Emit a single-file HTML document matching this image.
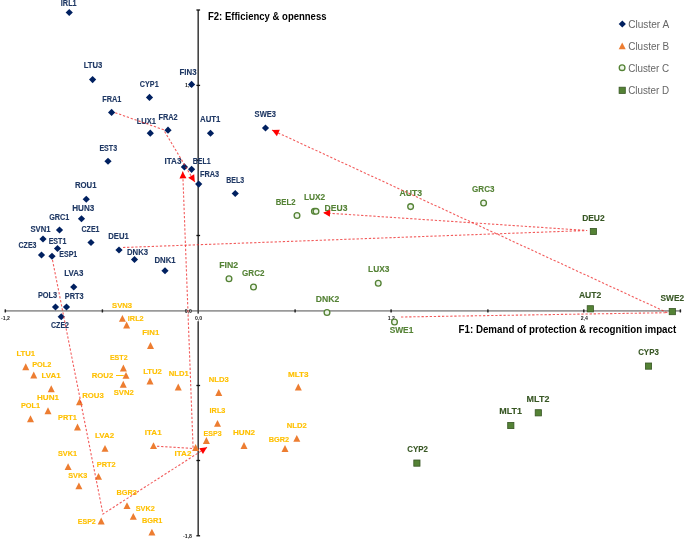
<!DOCTYPE html>
<html><head><meta charset="utf-8"><style>
html,body{margin:0;padding:0;background:#fff;width:685px;height:540px;overflow:hidden}
svg{display:block;font-family:"Liberation Sans",sans-serif;will-change:transform}
</style></head><body>
<svg width="685" height="540" viewBox="0 0 685 540">
<rect width="685" height="540" fill="#fff"/>
<line x1="5" y1="310.9" x2="680.5" y2="310.9" stroke="#9A9A9A" stroke-width="1.9"/>
<line x1="198.2" y1="10" x2="198.2" y2="535.8" stroke="#444" stroke-width="1.6"/>
<rect x="4.55" y="309.2" width="1.5" height="3.4" rx="0.6" fill="#222"/>
<rect x="101.65" y="309.2" width="1.5" height="3.4" rx="0.6" fill="#222"/>
<rect x="294.35" y="309.2" width="1.5" height="3.4" rx="0.6" fill="#222"/>
<rect x="390.35" y="309.2" width="1.5" height="3.4" rx="0.6" fill="#222"/>
<rect x="487.15" y="309.2" width="1.5" height="3.4" rx="0.6" fill="#222"/>
<rect x="583.05" y="309.2" width="1.5" height="3.4" rx="0.6" fill="#222"/>
<rect x="679.65" y="309.2" width="1.5" height="3.4" rx="0.6" fill="#222"/>
<rect x="196.4" y="9.35" width="3.7" height="1.3" fill="#111"/>
<rect x="196.4" y="84.75" width="3.7" height="1.3" fill="#111"/>
<rect x="196.4" y="159.55" width="3.7" height="1.3" fill="#111"/>
<rect x="196.4" y="234.85" width="3.7" height="1.3" fill="#111"/>
<rect x="196.4" y="384.85" width="3.7" height="1.3" fill="#111"/>
<rect x="196.4" y="459.85" width="3.7" height="1.3" fill="#111"/>
<rect x="196.4" y="535.15" width="3.7" height="1.3" fill="#111"/>
<g font-family="Liberation Sans" font-size="5.2" font-weight="bold" fill="#222" text-anchor="middle">
<text x="188.5" y="87.25">1,1</text>
<text x="188.4" y="312.75">0,0</text>
<text x="187.5" y="537.65">-1,8</text>
<text x="5.4" y="319.85">-1,2</text>
<text x="391.3" y="319.95">1,2</text>
<text x="584.3" y="320.15">2,4</text>
<rect x="194.5" y="313.6" width="8" height="7.6" fill="#fff"/>
<text x="198.5" y="320">0,0</text>
</g>
<path d="M69.25 8.90L72.85 12.50L69.25 16.10L65.65 12.50Z" fill="#002060"/>
<path d="M92.60 76.00L96.20 79.60L92.60 83.20L89.00 79.60Z" fill="#002060"/>
<path d="M149.50 93.80L153.10 97.40L149.50 101.00L145.90 97.40Z" fill="#002060"/>
<path d="M191.60 80.80L195.20 84.40L191.60 88.00L188.00 84.40Z" fill="#002060"/>
<path d="M111.60 108.80L115.20 112.40L111.60 116.00L108.00 112.40Z" fill="#002060"/>
<path d="M150.30 129.60L153.90 133.20L150.30 136.80L146.70 133.20Z" fill="#002060"/>
<path d="M168.00 126.60L171.60 130.20L168.00 133.80L164.40 130.20Z" fill="#002060"/>
<path d="M210.50 129.65L214.10 133.25L210.50 136.85L206.90 133.25Z" fill="#002060"/>
<path d="M265.50 124.40L269.10 128.00L265.50 131.60L261.90 128.00Z" fill="#002060"/>
<path d="M108.00 157.65L111.60 161.25L108.00 164.85L104.40 161.25Z" fill="#002060"/>
<path d="M184.40 163.30L188.00 166.90L184.40 170.50L180.80 166.90Z" fill="#002060"/>
<path d="M191.60 165.70L195.20 169.30L191.60 172.90L188.00 169.30Z" fill="#002060"/>
<path d="M198.70 180.50L202.30 184.10L198.70 187.70L195.10 184.10Z" fill="#002060"/>
<path d="M235.25 189.90L238.85 193.50L235.25 197.10L231.65 193.50Z" fill="#002060"/>
<path d="M86.25 195.65L89.85 199.25L86.25 202.85L82.65 199.25Z" fill="#002060"/>
<path d="M81.50 215.15L85.10 218.75L81.50 222.35L77.90 218.75Z" fill="#002060"/>
<path d="M59.50 226.40L63.10 230.00L59.50 233.60L55.90 230.00Z" fill="#002060"/>
<path d="M43.00 235.40L46.60 239.00L43.00 242.60L39.40 239.00Z" fill="#002060"/>
<path d="M91.00 238.90L94.60 242.50L91.00 246.10L87.40 242.50Z" fill="#002060"/>
<path d="M57.50 244.90L61.10 248.50L57.50 252.10L53.90 248.50Z" fill="#002060"/>
<path d="M41.50 251.40L45.10 255.00L41.50 258.60L37.90 255.00Z" fill="#002060"/>
<path d="M52.00 252.65L55.60 256.25L52.00 259.85L48.40 256.25Z" fill="#002060"/>
<path d="M119.00 246.40L122.60 250.00L119.00 253.60L115.40 250.00Z" fill="#002060"/>
<path d="M134.50 255.90L138.10 259.50L134.50 263.10L130.90 259.50Z" fill="#002060"/>
<path d="M165.00 267.15L168.60 270.75L165.00 274.35L161.40 270.75Z" fill="#002060"/>
<path d="M73.75 283.40L77.35 287.00L73.75 290.60L70.15 287.00Z" fill="#002060"/>
<path d="M55.50 303.40L59.10 307.00L55.50 310.60L51.90 307.00Z" fill="#002060"/>
<path d="M66.50 303.40L70.10 307.00L66.50 310.60L62.90 307.00Z" fill="#002060"/>
<path d="M61.25 313.15L64.85 316.75L61.25 320.35L57.65 316.75Z" fill="#002060"/>
<path d="M122.40 314.90L125.90 321.70L118.90 321.70Z" fill="#ED7D31"/>
<path d="M126.60 321.60L130.10 328.40L123.10 328.40Z" fill="#ED7D31"/>
<path d="M150.50 342.10L154.00 348.90L147.00 348.90Z" fill="#ED7D31"/>
<path d="M123.40 364.60L126.90 371.40L119.90 371.40Z" fill="#ED7D31"/>
<path d="M126.00 371.90L129.50 378.70L122.50 378.70Z" fill="#ED7D31"/>
<path d="M123.25 380.85L126.75 387.65L119.75 387.65Z" fill="#ED7D31"/>
<path d="M150.00 377.60L153.50 384.40L146.50 384.40Z" fill="#ED7D31"/>
<path d="M25.75 363.35L29.25 370.15L22.25 370.15Z" fill="#ED7D31"/>
<path d="M33.75 371.60L37.25 378.40L30.25 378.40Z" fill="#ED7D31"/>
<path d="M51.25 385.35L54.75 392.15L47.75 392.15Z" fill="#ED7D31"/>
<path d="M48.00 407.35L51.50 414.15L44.50 414.15Z" fill="#ED7D31"/>
<path d="M30.50 415.35L34.00 422.15L27.00 422.15Z" fill="#ED7D31"/>
<path d="M79.50 398.35L83.00 405.15L76.00 405.15Z" fill="#ED7D31"/>
<path d="M77.50 423.60L81.00 430.40L74.00 430.40Z" fill="#ED7D31"/>
<path d="M105.00 445.00L108.50 451.80L101.50 451.80Z" fill="#ED7D31"/>
<path d="M153.50 442.20L157.00 449.00L150.00 449.00Z" fill="#ED7D31"/>
<path d="M68.10 463.30L71.60 470.10L64.60 470.10Z" fill="#ED7D31"/>
<path d="M98.50 473.00L102.00 479.80L95.00 479.80Z" fill="#ED7D31"/>
<path d="M78.90 482.40L82.40 489.20L75.40 489.20Z" fill="#ED7D31"/>
<path d="M127.00 502.30L130.50 509.10L123.50 509.10Z" fill="#ED7D31"/>
<path d="M133.30 513.00L136.80 519.80L129.80 519.80Z" fill="#ED7D31"/>
<path d="M151.90 528.80L155.40 535.60L148.40 535.60Z" fill="#ED7D31"/>
<path d="M101.20 517.60L104.70 524.40L97.70 524.40Z" fill="#ED7D31"/>
<path d="M178.25 383.60L181.75 390.40L174.75 390.40Z" fill="#ED7D31"/>
<path d="M218.75 389.10L222.25 395.90L215.25 395.90Z" fill="#ED7D31"/>
<path d="M298.30 383.60L301.80 390.40L294.80 390.40Z" fill="#ED7D31"/>
<path d="M217.50 419.90L221.00 426.70L214.00 426.70Z" fill="#ED7D31"/>
<path d="M296.80 434.90L300.30 441.70L293.30 441.70Z" fill="#ED7D31"/>
<path d="M206.40 437.10L209.90 443.90L202.90 443.90Z" fill="#ED7D31"/>
<path d="M244.00 442.10L247.50 448.90L240.50 448.90Z" fill="#ED7D31"/>
<path d="M285.00 445.10L288.50 451.90L281.50 451.90Z" fill="#ED7D31"/>
<path d="M195.60 444.10L199.10 450.90L192.10 450.90Z" fill="#ED7D31"/>
<circle cx="297.00" cy="215.50" r="2.85" fill="#EEF5EA" stroke="#548235" stroke-width="1.35"/>
<circle cx="314.40" cy="211.30" r="2.85" fill="#EEF5EA" stroke="#548235" stroke-width="1.35"/>
<circle cx="316.00" cy="211.30" r="2.85" fill="#EEF5EA" stroke="#548235" stroke-width="1.35"/>
<circle cx="410.60" cy="206.60" r="2.85" fill="#EEF5EA" stroke="#548235" stroke-width="1.35"/>
<circle cx="483.60" cy="203.00" r="2.85" fill="#EEF5EA" stroke="#548235" stroke-width="1.35"/>
<circle cx="229.00" cy="278.75" r="2.85" fill="#EEF5EA" stroke="#548235" stroke-width="1.35"/>
<circle cx="253.50" cy="287.00" r="2.85" fill="#EEF5EA" stroke="#548235" stroke-width="1.35"/>
<circle cx="378.25" cy="283.25" r="2.85" fill="#EEF5EA" stroke="#548235" stroke-width="1.35"/>
<circle cx="327.00" cy="312.50" r="2.85" fill="#EEF5EA" stroke="#548235" stroke-width="1.35"/>
<circle cx="394.50" cy="322.00" r="2.85" fill="#EEF5EA" stroke="#548235" stroke-width="1.35"/>
<rect x="590.30" y="228.40" width="6.2" height="6.2" fill="#548235" stroke="#375623" stroke-width="0.8"/>
<rect x="587.20" y="305.70" width="6.2" height="6.2" fill="#548235" stroke="#375623" stroke-width="0.8"/>
<rect x="669.20" y="308.50" width="6.2" height="6.2" fill="#548235" stroke="#375623" stroke-width="0.8"/>
<rect x="645.40" y="363.00" width="6.2" height="6.2" fill="#548235" stroke="#375623" stroke-width="0.8"/>
<rect x="535.20" y="409.70" width="6.2" height="6.2" fill="#548235" stroke="#375623" stroke-width="0.8"/>
<rect x="507.70" y="422.40" width="6.2" height="6.2" fill="#548235" stroke="#375623" stroke-width="0.8"/>
<rect x="413.80" y="460.00" width="6.2" height="6.2" fill="#548235" stroke="#375623" stroke-width="0.8"/>
<line x1="116" y1="375.5" x2="123.8" y2="375.5" stroke="#FFC000" stroke-width="1"/>
<g font-family="Liberation Sans" font-weight="bold" font-size="8.3" text-anchor="middle" stroke-width="0.12">
<text x="68.75" y="6.44" fill="#1F3864" stroke="#1F3864" font-size="8.2" textLength="15.84" lengthAdjust="spacingAndGlyphs">IRL1</text>
<text x="93.00" y="68.44" fill="#1F3864" stroke="#1F3864" font-size="8.2" textLength="18.70" lengthAdjust="spacingAndGlyphs">LTU3</text>
<text x="149.25" y="86.69" fill="#1F3864" stroke="#1F3864" font-size="8.2" textLength="18.79" lengthAdjust="spacingAndGlyphs">CYP1</text>
<text x="188.00" y="75.44" fill="#1F3864" stroke="#1F3864" font-size="8.2" textLength="17.03" lengthAdjust="spacingAndGlyphs">FIN3</text>
<text x="111.75" y="102.44" fill="#1F3864" stroke="#1F3864" font-size="8.2" textLength="19.21" lengthAdjust="spacingAndGlyphs">FRA1</text>
<text x="146.40" y="124.34" fill="#1F3864" stroke="#1F3864" font-size="8.2" textLength="19.21" lengthAdjust="spacingAndGlyphs">LUX1</text>
<text x="168.00" y="120.44" fill="#1F3864" stroke="#1F3864" font-size="8.2" textLength="19.21" lengthAdjust="spacingAndGlyphs">FRA2</text>
<text x="210.25" y="122.44" fill="#1F3864" stroke="#1F3864" font-size="8.2" textLength="20.35" lengthAdjust="spacingAndGlyphs">AUT1</text>
<text x="265.30" y="117.14" fill="#1F3864" stroke="#1F3864" font-size="8.2" textLength="21.37" lengthAdjust="spacingAndGlyphs">SWE3</text>
<text x="108.25" y="150.94" fill="#1F3864" stroke="#1F3864" font-size="8.2" textLength="17.67" lengthAdjust="spacingAndGlyphs">EST3</text>
<text x="173.00" y="163.94" fill="#1F3864" stroke="#1F3864" font-size="8.2" textLength="16.88" lengthAdjust="spacingAndGlyphs">ITA3</text>
<text x="201.75" y="163.94" fill="#1F3864" stroke="#1F3864" font-size="8.2" textLength="17.81" lengthAdjust="spacingAndGlyphs">BEL1</text>
<text x="209.50" y="177.44" fill="#1F3864" stroke="#1F3864" font-size="8.2" textLength="19.21" lengthAdjust="spacingAndGlyphs">FRA3</text>
<text x="235.25" y="183.44" fill="#1F3864" stroke="#1F3864" font-size="8.2" textLength="17.81" lengthAdjust="spacingAndGlyphs">BEL3</text>
<text x="85.75" y="188.44" fill="#1F3864" stroke="#1F3864" font-size="8.2" textLength="21.59" lengthAdjust="spacingAndGlyphs">ROU1</text>
<text x="83.25" y="211.19" fill="#1F3864" stroke="#1F3864" font-size="8.2" textLength="22.05" lengthAdjust="spacingAndGlyphs">HUN3</text>
<text x="59.25" y="220.44" fill="#1F3864" stroke="#1F3864" font-size="8.2" textLength="20.12" lengthAdjust="spacingAndGlyphs">GRC1</text>
<text x="40.50" y="232.44" fill="#1F3864" stroke="#1F3864" font-size="8.2" textLength="20.07" lengthAdjust="spacingAndGlyphs">SVN1</text>
<text x="90.50" y="232.44" fill="#1F3864" stroke="#1F3864" font-size="8.2" textLength="18.02" lengthAdjust="spacingAndGlyphs">CZE1</text>
<text x="57.50" y="243.69" fill="#1F3864" stroke="#1F3864" font-size="8.2" textLength="17.67" lengthAdjust="spacingAndGlyphs">EST1</text>
<text x="27.50" y="248.44" fill="#1F3864" stroke="#1F3864" font-size="8.2" textLength="18.02" lengthAdjust="spacingAndGlyphs">CZE3</text>
<text x="68.25" y="257.44" fill="#1F3864" stroke="#1F3864" font-size="8.2" textLength="18.00" lengthAdjust="spacingAndGlyphs">ESP1</text>
<text x="118.50" y="239.19" fill="#1F3864" stroke="#1F3864" font-size="8.2" textLength="20.50" lengthAdjust="spacingAndGlyphs">DEU1</text>
<text x="137.50" y="254.69" fill="#1F3864" stroke="#1F3864" font-size="8.2" textLength="21.09" lengthAdjust="spacingAndGlyphs">DNK3</text>
<text x="165.00" y="262.94" fill="#1F3864" stroke="#1F3864" font-size="8.2" textLength="21.09" lengthAdjust="spacingAndGlyphs">DNK1</text>
<text x="73.75" y="276.19" fill="#1F3864" stroke="#1F3864" font-size="8.2" textLength="19.14" lengthAdjust="spacingAndGlyphs">LVA3</text>
<text x="47.50" y="297.94" fill="#1F3864" stroke="#1F3864" font-size="8.2" textLength="19.24" lengthAdjust="spacingAndGlyphs">POL3</text>
<text x="74.25" y="299.19" fill="#1F3864" stroke="#1F3864" font-size="8.2" textLength="18.87" lengthAdjust="spacingAndGlyphs">PRT3</text>
<text x="60.00" y="328.44" fill="#1F3864" stroke="#1F3864" font-size="8.2" textLength="18.02" lengthAdjust="spacingAndGlyphs">CZE2</text>
<text x="122.10" y="308.46" fill="#FFC000" stroke="#FFC000" font-size="8.0" textLength="20.07" lengthAdjust="spacingAndGlyphs">SVN3</text>
<text x="135.75" y="321.11" fill="#FFC000" stroke="#FFC000" font-size="8.0" textLength="15.84" lengthAdjust="spacingAndGlyphs">IRL2</text>
<text x="150.75" y="334.61" fill="#FFC000" stroke="#FFC000" font-size="8.0" textLength="17.03" lengthAdjust="spacingAndGlyphs">FIN1</text>
<text x="118.75" y="359.86" fill="#FFC000" stroke="#FFC000" font-size="8.0" textLength="17.67" lengthAdjust="spacingAndGlyphs">EST2</text>
<text x="102.50" y="378.36" fill="#FFC000" stroke="#FFC000" font-size="8.0" textLength="21.59" lengthAdjust="spacingAndGlyphs">ROU2</text>
<text x="123.75" y="395.36" fill="#FFC000" stroke="#FFC000" font-size="8.0" textLength="20.07" lengthAdjust="spacingAndGlyphs">SVN2</text>
<text x="152.50" y="374.36" fill="#FFC000" stroke="#FFC000" font-size="8.0" textLength="18.70" lengthAdjust="spacingAndGlyphs">LTU2</text>
<text x="25.75" y="356.36" fill="#FFC000" stroke="#FFC000" font-size="8.0" textLength="18.70" lengthAdjust="spacingAndGlyphs">LTU1</text>
<text x="41.75" y="367.11" fill="#FFC000" stroke="#FFC000" font-size="8.0" textLength="19.24" lengthAdjust="spacingAndGlyphs">POL2</text>
<text x="51.00" y="377.61" fill="#FFC000" stroke="#FFC000" font-size="8.0" textLength="19.14" lengthAdjust="spacingAndGlyphs">LVA1</text>
<text x="48.00" y="400.36" fill="#FFC000" stroke="#FFC000" font-size="8.0" textLength="22.05" lengthAdjust="spacingAndGlyphs">HUN1</text>
<text x="30.50" y="408.36" fill="#FFC000" stroke="#FFC000" font-size="8.0" textLength="19.24" lengthAdjust="spacingAndGlyphs">POL1</text>
<text x="93.00" y="398.36" fill="#FFC000" stroke="#FFC000" font-size="8.0" textLength="21.59" lengthAdjust="spacingAndGlyphs">ROU3</text>
<text x="67.50" y="420.36" fill="#FFC000" stroke="#FFC000" font-size="8.0" textLength="18.87" lengthAdjust="spacingAndGlyphs">PRT1</text>
<text x="104.50" y="437.86" fill="#FFC000" stroke="#FFC000" font-size="8.0" textLength="19.14" lengthAdjust="spacingAndGlyphs">LVA2</text>
<text x="153.25" y="435.11" fill="#FFC000" stroke="#FFC000" font-size="8.0" textLength="16.88" lengthAdjust="spacingAndGlyphs">ITA1</text>
<text x="67.50" y="456.26" fill="#FFC000" stroke="#FFC000" font-size="8.0" textLength="19.06" lengthAdjust="spacingAndGlyphs">SVK1</text>
<text x="106.20" y="466.86" fill="#FFC000" stroke="#FFC000" font-size="8.0" textLength="18.87" lengthAdjust="spacingAndGlyphs">PRT2</text>
<text x="77.70" y="477.56" fill="#FFC000" stroke="#FFC000" font-size="8.0" textLength="19.06" lengthAdjust="spacingAndGlyphs">SVK3</text>
<text x="126.60" y="494.86" fill="#FFC000" stroke="#FFC000" font-size="8.0" textLength="20.41" lengthAdjust="spacingAndGlyphs">BGR3</text>
<text x="145.20" y="510.56" fill="#FFC000" stroke="#FFC000" font-size="8.0" textLength="19.06" lengthAdjust="spacingAndGlyphs">SVK2</text>
<text x="152.10" y="522.66" fill="#FFC000" stroke="#FFC000" font-size="8.0" textLength="20.41" lengthAdjust="spacingAndGlyphs">BGR1</text>
<text x="86.80" y="523.86" fill="#FFC000" stroke="#FFC000" font-size="8.0" textLength="18.00" lengthAdjust="spacingAndGlyphs">ESP2</text>
<text x="178.75" y="375.86" fill="#FFC000" stroke="#FFC000" font-size="8.0" textLength="19.97" lengthAdjust="spacingAndGlyphs">NLD1</text>
<text x="218.75" y="382.11" fill="#FFC000" stroke="#FFC000" font-size="8.0" textLength="19.97" lengthAdjust="spacingAndGlyphs">NLD3</text>
<text x="298.25" y="376.61" fill="#FFC000" stroke="#FFC000" font-size="8.0" textLength="20.69" lengthAdjust="spacingAndGlyphs">MLT3</text>
<text x="217.50" y="412.86" fill="#FFC000" stroke="#FFC000" font-size="8.0" textLength="15.84" lengthAdjust="spacingAndGlyphs">IRL3</text>
<text x="296.80" y="427.86" fill="#FFC000" stroke="#FFC000" font-size="8.0" textLength="19.97" lengthAdjust="spacingAndGlyphs">NLD2</text>
<text x="212.60" y="435.56" fill="#FFC000" stroke="#FFC000" font-size="8.0" textLength="18.00" lengthAdjust="spacingAndGlyphs">ESP3</text>
<text x="244.00" y="434.61" fill="#FFC000" stroke="#FFC000" font-size="8.0" textLength="22.05" lengthAdjust="spacingAndGlyphs">HUN2</text>
<text x="279.00" y="441.56" fill="#FFC000" stroke="#FFC000" font-size="8.0" textLength="20.41" lengthAdjust="spacingAndGlyphs">BGR2</text>
<text x="183.00" y="456.06" fill="#FFC000" stroke="#FFC000" font-size="8.0" textLength="16.88" lengthAdjust="spacingAndGlyphs">ITA2</text>
<text x="285.60" y="204.92" fill="#548235" stroke="#548235" font-size="9.0" textLength="19.79" lengthAdjust="spacingAndGlyphs">BEL2</text>
<text x="314.60" y="200.22" fill="#548235" stroke="#548235" font-size="9.0" textLength="21.34" lengthAdjust="spacingAndGlyphs">LUX2</text>
<text x="336.00" y="210.72" fill="#548235" stroke="#548235" font-size="9.0" textLength="22.78" lengthAdjust="spacingAndGlyphs">DEU3</text>
<text x="410.80" y="196.02" fill="#548235" stroke="#548235" font-size="9.0" textLength="22.61" lengthAdjust="spacingAndGlyphs">AUT3</text>
<text x="483.30" y="192.22" fill="#548235" stroke="#548235" font-size="9.0" textLength="22.36" lengthAdjust="spacingAndGlyphs">GRC3</text>
<text x="228.75" y="267.72" fill="#548235" stroke="#548235" font-size="9.0" textLength="18.92" lengthAdjust="spacingAndGlyphs">FIN2</text>
<text x="253.25" y="275.72" fill="#548235" stroke="#548235" font-size="9.0" textLength="22.36" lengthAdjust="spacingAndGlyphs">GRC2</text>
<text x="378.75" y="271.97" fill="#548235" stroke="#548235" font-size="9.0" textLength="21.34" lengthAdjust="spacingAndGlyphs">LUX3</text>
<text x="327.50" y="301.97" fill="#548235" stroke="#548235" font-size="9.0" textLength="23.43" lengthAdjust="spacingAndGlyphs">DNK2</text>
<text x="401.50" y="333.22" fill="#548235" stroke="#548235" font-size="9.0" textLength="23.74" lengthAdjust="spacingAndGlyphs">SWE1</text>
<text x="593.40" y="220.69" fill="#375623" stroke="#375623" font-size="8.9" textLength="22.55" lengthAdjust="spacingAndGlyphs">DEU2</text>
<text x="590.10" y="298.19" fill="#375623" stroke="#375623" font-size="8.9" textLength="22.38" lengthAdjust="spacingAndGlyphs">AUT2</text>
<text x="672.30" y="300.99" fill="#375623" stroke="#375623" font-size="8.9" textLength="23.50" lengthAdjust="spacingAndGlyphs">SWE2</text>
<text x="648.50" y="355.29" fill="#375623" stroke="#375623" font-size="8.9" textLength="20.67" lengthAdjust="spacingAndGlyphs">CYP3</text>
<text x="538.00" y="401.79" fill="#375623" stroke="#375623" font-size="8.9" textLength="22.76" lengthAdjust="spacingAndGlyphs">MLT2</text>
<text x="510.70" y="413.89" fill="#375623" stroke="#375623" font-size="8.9" textLength="22.76" lengthAdjust="spacingAndGlyphs">MLT1</text>
<text x="417.60" y="452.49" fill="#375623" stroke="#375623" font-size="8.9" textLength="20.67" lengthAdjust="spacingAndGlyphs">CYP2</text>
</g>
<path d="M401.00 317.00 L667.40 312.70 L272.00 130.10" stroke="#EE2626" stroke-width="1.1" stroke-dasharray="2.3 1.8" fill="none" opacity="0.75"/>
<path d="M123.00 247.50 L587.20 230.50 L323.10 212.80" stroke="#EE2626" stroke-width="1.1" stroke-dasharray="2.3 1.8" fill="none" opacity="0.75"/>
<path d="M115.20 112.70 L163.50 129.70 L194.80 182.00" stroke="#EE2626" stroke-width="1.1" stroke-dasharray="2.3 1.8" fill="none" opacity="0.75"/>
<path d="M157.00 446.20 L193.10 448.50 L182.70 171.40" stroke="#EE2626" stroke-width="1.1" stroke-dasharray="2.3 1.8" fill="none" opacity="0.75"/>
<path d="M52.50 260.00 L103.00 514.00 L207.00 447.30" stroke="#EE2626" stroke-width="1.1" stroke-dasharray="2.3 1.8" fill="none" opacity="0.75"/>
<path d="M272.00 130.10L279.82 129.86L276.89 136.21Z" fill="#FF0000"/>
<path d="M323.10 212.80L330.32 209.78L329.85 216.76Z" fill="#FF0000"/>
<path d="M194.80 182.00L188.20 177.79L194.21 174.20Z" fill="#FF0000"/>
<path d="M182.70 171.40L186.46 178.26L179.46 178.53Z" fill="#FF0000"/>
<path d="M207.00 447.30L203.00 454.03L199.22 448.13Z" fill="#FF0000"/>
<g font-family="Liberation Sans" font-weight="bold" font-size="10.5" fill="#000">
<text x="208" y="19.6" textLength="118.5" lengthAdjust="spacingAndGlyphs">F2: Efficiency &amp; openness</text>
<text x="458.6" y="332.8" textLength="217.6" lengthAdjust="spacingAndGlyphs">F1: Demand of protection &amp; recognition impact</text>
</g>
<path d="M622.30 20.40L625.90 24.00L622.30 27.60L618.70 24.00Z" fill="#002060"/>
<path d="M622.20 42.40L625.70 49.20L618.70 49.20Z" fill="#ED7D31"/>
<circle cx="622.10" cy="67.70" r="2.85" fill="#EEF5EA" stroke="#548235" stroke-width="1.35"/>
<rect x="619.10" y="87.20" width="6.2" height="6.2" fill="#548235" stroke="#375623" stroke-width="0.8"/>
<g font-family="Liberation Sans" font-size="10.2" fill="#666">
<text x="628.2" y="28.10" textLength="41" lengthAdjust="spacingAndGlyphs">Cluster A</text>
<text x="628.2" y="50.05" textLength="41" lengthAdjust="spacingAndGlyphs">Cluster B</text>
<text x="628.2" y="72.00" textLength="41" lengthAdjust="spacingAndGlyphs">Cluster C</text>
<text x="628.2" y="93.95" textLength="41" lengthAdjust="spacingAndGlyphs">Cluster D</text>
</g>
</svg>
</body></html>
